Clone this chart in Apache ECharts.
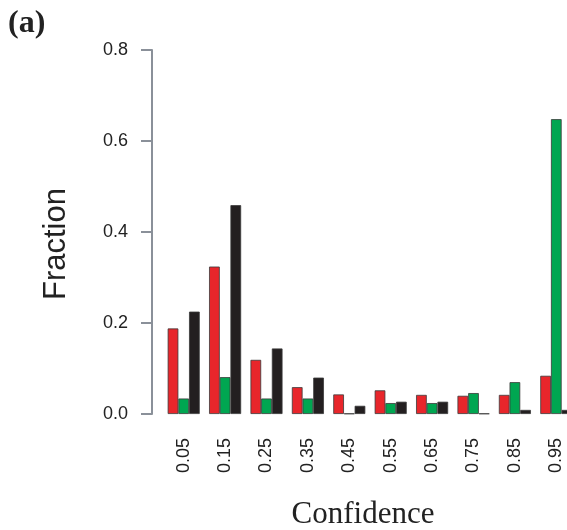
<!DOCTYPE html>
<html>
<head>
<meta charset="utf-8">
<script src="https://cdn.jsdelivr.net/npm/echarts@6/dist/echarts.min.js"></script>
<style>
html,body{margin:0;padding:0;background:#fff;}
#chart{width:567px;height:530px;}
</style>
</head>
<body>
<div id="chart"></div>
<script>
const categories = ['0.05','0.15','0.25','0.35','0.45','0.55','0.65','0.75','0.85','0.95'];
const redValues   = [0.188, 0.324, 0.119, 0.059, 0.043, 0.052, 0.042, 0.040, 0.042, 0.084];
const greenValues = [0.034, 0.081, 0.034, 0.034, 0.001, 0.024, 0.024, 0.046, 0.070, 0.648];
const blackValues = [0.225, 0.459, 0.144, 0.080, 0.018, 0.027, 0.027, 0.001, 0.009, 0.009];
const yTicks = [0, 0.2, 0.4, 0.6, 0.8];

const chart = echarts.init(document.getElementById('chart'), null, {renderer:'canvas'});
const borderCol = '#3a3a3a';
function bar(name, data, color){
  return {
    name, type:'bar', data,
    barGap:'0%', barCategoryGap:'22.6%',
    itemStyle:{color, borderColor:borderCol, borderWidth:0.8},
    emphasis:{disabled:true}
  };
}
chart.setOption({
  animation:false,
  grid:{left:163, right:-10, top:50, bottom:116, containLabel:false, outerBoundsMode:'none'},
  xAxis:{
    type:'category', data:categories,
    axisLine:{show:false}, axisTick:{show:false},
    axisLabel:{rotate:90, margin:24, fontFamily:'Liberation Sans, Arial', fontSize:18, color:'#222'}
  },
  yAxis:{
    type:'value', min:0, max:0.8, interval:0.2, offset:11,
    splitLine:{show:false},
    axisLine:{show:true, lineStyle:{color:'#8a9099', width:2}},
    axisTick:{show:true, length:11, lineStyle:{color:'#8a9099', width:2}},
    axisLabel:{margin:24, fontFamily:'Liberation Sans, Arial', fontSize:18, color:'#222',
      formatter:v=>{const t=yTicks.find(x=>Math.abs(x-v)<1e-9);return t===undefined?'':t.toFixed(1);}}
  },
  graphic:[
    {type:'text', left:8, top:8, style:{text:'(a)', font:'bold 32px "Liberation Serif", "Times New Roman"', fill:'#222'}},
    {type:'text', x:56, y:244, rotation:Math.PI/2, style:{text:'Fraction', font:'31px "Liberation Sans", Arial', fill:'#222', align:'center', verticalAlign:'middle'}},
    {type:'text', x:363, y:515, style:{text:'Confidence', font:'31px "Liberation Serif", "Times New Roman"', fill:'#222', align:'center', verticalAlign:'middle'}}
  ],
  series:[bar('red', redValues, '#e8262b'), bar('green', greenValues, '#00a651'), bar('black', blackValues, '#231f20')]
});
</script>
</body>
</html>
